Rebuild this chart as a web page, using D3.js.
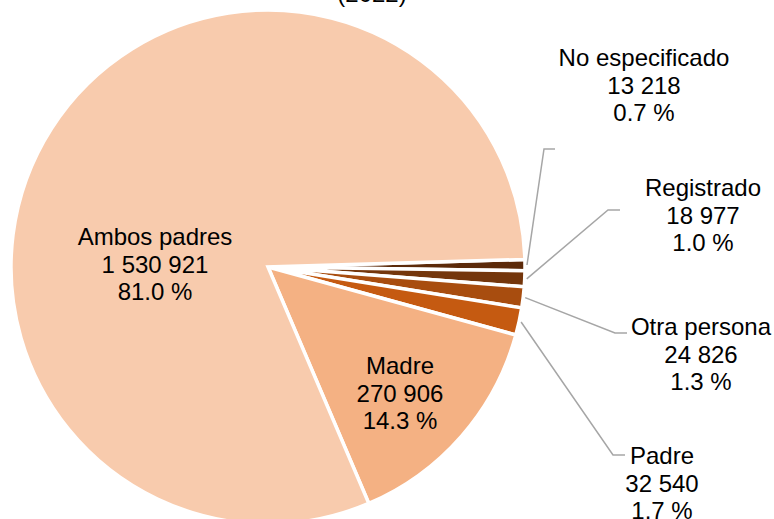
<!DOCTYPE html>
<html>
<head>
<meta charset="utf-8">
<title>Pie</title>
<script src="https://d3js.org/d3.v7.min.js"></script>
<style>
body { margin: 0; background: #fff; }
text { font-family: "Liberation Sans", Arial, sans-serif; fill: #000; }
</style>
</head>
<body>
<script>
// data, listed clockwise starting just above 3 o'clock
var categories = ["No especificado", "Registrado", "Otra persona", "Padre", "Madre", "Ambos padres"];
var values = [13218, 18977, 24826, 32540, 270906, 1530921];
var valueLabels = ["13 218", "18 977", "24 826", "32 540", "270 906", "1 530 921"];
var pctLabels = ["0.7 %", "1.0 %", "1.3 %", "1.7 %", "14.3 %", "81.0 %"];
var colors = ["#5c2a0a", "#74360c", "#a84d0f", "#c55a11", "#f4b183", "#f8cbad"];

var width = 774, height = 519;
var cx = 268, cy = 267, r = 257;

// label anchor positions (center of first line of each 3-line label)
var labelPos = [[644, 57], [703, 187], [701, 326], [662, 455], [400, 365], [155, 236]];
// leader line elbows for outside labels (null = inside label)
var elbows = [[[544, 149], [555, 149]], [[608, 210], [620, 210]],
              [[615, 333], [627, 333]], [[613, 455], [625, 455]], null, null];

var svg = d3.select("body").append("svg")
    .attr("width", width)
    .attr("height", height);

svg.append("text")
    .attr("x", 372).attr("y", 2)
    .attr("text-anchor", "middle")
    .style("font-size", "24px")
    .text("(2022)");

var startA = 88.3 * Math.PI / 180;
var pie = d3.pie().sort(null)
    .startAngle(startA).endAngle(startA + 2 * Math.PI);
var arcs = pie(values);

var arc = d3.arc().innerRadius(0).outerRadius(r);

var g = svg.append("g").attr("transform", "translate(" + cx + "," + cy + ")");

g.selectAll("path")
  .data(arcs)
  .enter()
  .append("path")
  .attr("d", arc)
  .attr("fill", function(d, i) { return colors[i]; })
  .attr("stroke", "#fff")
  .attr("stroke-width", 3.5)
  .attr("stroke-linejoin", "miter");

// leader lines from the slice edge to the label
arcs.forEach(function(d, i) {
  if (!elbows[i]) return;
  var a = (d.startAngle + d.endAngle) / 2;
  var p0 = [cx + (r + 2) * Math.sin(a), cy - (r + 2) * Math.cos(a)];
  var pts = [p0, elbows[i][0], elbows[i][1]];
  svg.append("path")
    .attr("d", d3.line()(pts))
    .attr("fill", "none")
    .attr("stroke", "#a6a6a6")
    .attr("stroke-width", 1.5);
});

// labels
categories.forEach(function(c, i) {
  var t = svg.append("text")
    .attr("text-anchor", "middle")
    .attr("dominant-baseline", "central")
    .style("font-size", "24px");
  var lines = [c, valueLabels[i], pctLabels[i]];
  lines.forEach(function(s, k) {
    t.append("tspan")
      .attr("x", labelPos[i][0])
      .attr("y", labelPos[i][1] + k * 27.5)
      .text(s);
  });
});
</script>
</body>
</html>
